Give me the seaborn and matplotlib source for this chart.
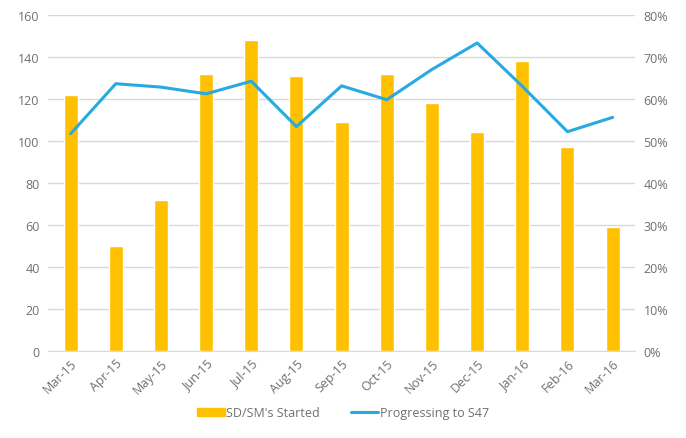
import pandas as pd
import matplotlib.pyplot as plt
import seaborn as sns
from matplotlib.ticker import PercentFormatter
from matplotlib.patches import Patch
from matplotlib.lines import Line2D

months = ['Mar-15', 'Apr-15', 'May-15', 'Jun-15', 'Jul-15', 'Aug-15', 'Sep-15',
          'Oct-15', 'Nov-15', 'Dec-15', 'Jan-16', 'Feb-16', 'Mar-16']
started = [122, 50, 72, 132, 148, 131, 109, 132, 118, 104, 138, 97, 59]
progressing = [51.7, 63.6, 62.8, 61.2, 64.2, 53.4, 63.1, 59.8, 67.0, 73.3, 63.0, 52.2, 55.6]

bar_color = '#FFC000'
line_color = '#27AAE1'
text_color = '#707070'

sns.set_style('white')
plt.rcParams['font.family'] = ['Open Sans', 'DejaVu Sans']

df = pd.DataFrame({'month': months, 'started': started, 'progressing': progressing})

fig = plt.figure(figsize=(6.86, 4.39), dpi=100)
ax = fig.add_axes([0.07, 0.198, 0.856, 0.766])

sns.barplot(data=df, x='month', y='started', color=bar_color, width=0.31,
            saturation=1, ax=ax, zorder=2)
ax.set_ylim(0, 160)
ax.set_yticks(range(0, 161, 20))
ax.yaxis.grid(True, color='#D9D9D9', linewidth=1, zorder=0)
ax.set_axisbelow(True)
ax.set_xlabel('')
ax.set_ylabel('')
ax.set_xlim(-0.5, len(months) - 0.5)

ax2 = ax.twinx()
sns.lineplot(data=df, x='month', y='progressing', color=line_color, linewidth=2.2,
             sort=False, ax=ax2)
ax2.set_ylim(0, 80)
ax2.set_yticks(range(0, 81, 10))
ax2.yaxis.set_major_formatter(PercentFormatter(decimals=0))
ax2.set_ylabel('')
ax2.set_xlabel('')

for a in (ax, ax2):
    for s in a.spines.values():
        s.set_visible(False)
    a.tick_params(length=0, labelsize=9, colors=text_color, pad=6)
ax.spines['bottom'].set_visible(True)
ax.spines['bottom'].set_color('#D9D9D9')
ax.set_xticks(range(len(months)))
ax.set_xticklabels(months, rotation=45, ha='right', rotation_mode='anchor')
ax.tick_params(axis='x', pad=4)

handles = [Patch(color=bar_color, label="SD/SM's Started"),
           Line2D([0], [0], color=line_color, linewidth=2.2, label='Progressing to S47')]
fig.legend(handles=handles, loc='center', bbox_to_anchor=(0.5, 0.058), ncol=2,
           frameon=False, fontsize=9, labelcolor=text_color, handlelength=2.2,
           handleheight=0.6, columnspacing=2.5, handletextpad=0.1)

fig.savefig('out.png', dpi=100)
